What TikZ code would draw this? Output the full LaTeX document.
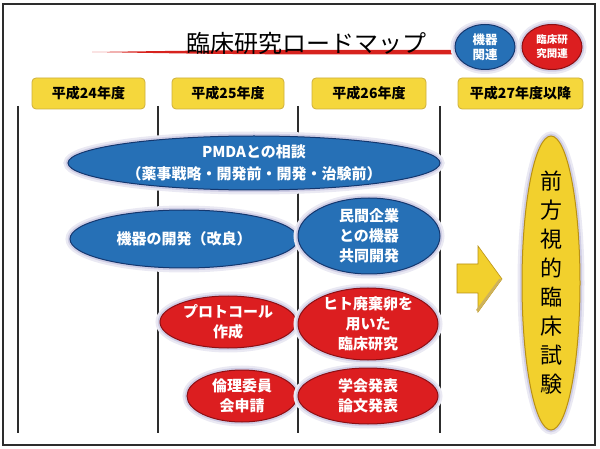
\documentclass[tikz,border=0pt]{standalone}
\usepackage{fontspec}
\setmainfont{Noto Sans CJK JP}
\usetikzlibrary{shapes.geometric}
\definecolor{bfill}{RGB}{38,112,182}
\definecolor{bedge}{RGB}{20,55,110}
\definecolor{rfill}{RGB}{220,30,32}
\definecolor{redge}{RGB}{140,15,20}
\definecolor{yfill}{RGB}{242,208,45}
\definecolor{yedge}{RGB}{185,145,20}
\definecolor{halo}{RGB}{195,192,222}
\definecolor{boxfill}{RGB}{245,215,60}
\definecolor{boxedge}{RGB}{205,175,60}
\definecolor{vline}{RGB}{45,45,45}
\definecolor{titlered}{RGB}{215,35,30}
\begin{document}
\begin{tikzpicture}[x=1pt,y=-1pt,
  blob/.style={ellipse, inner sep=0pt, fill=#1fill, draw=#1edge, line width=1pt,
    preaction={draw=halo!35, line width=9pt},
    preaction={draw=halo!80, line width=4.5pt}},
  yearbox/.style={rectangle, rounded corners=4pt, fill=boxfill, draw=boxedge, line width=0.8pt,
    minimum height=31pt, inner sep=0pt, font=\bfseries\fontsize{14}{16}\selectfont},
  wtxt/.style={text=white, align=center, font=\bfseries\fontsize{15}{20}\selectfont},
  divider/.style={draw=vline, line width=2.5pt}]
\useasboundingbox (0,0) rectangle (600,449);
% frame
\draw[draw=vline, line width=1.5pt] (3,4) rectangle (595,445);
% title
\fill[titlered] (92,52) .. controls (200,50.5) .. (300,49.8) -- (456,49.8) -- (456,54.5) -- (300,54.5) .. controls (200,53.8) .. (92,52) -- cycle;
\node[font=\fontsize{24}{26}\selectfont] (title) at (306,43) {臨床研究ロードマップ};
% legend
\node[blob=b, minimum width=60pt, minimum height=45pt] (legb) at (485,47) {};
\node[text=white, align=center, font=\bfseries\fontsize{12.5}{15}\selectfont] (legbt) at (legb) {機器\\関連};
\node[blob=r, minimum width=60pt, minimum height=45pt] (legr) at (552,47) {};
\node[text=white, align=center, font=\bfseries\fontsize{10.5}{14}\selectfont] (legrt) at (legr) {臨床研\\究関連};
% year boxes
\node[yearbox, minimum width=113pt] (y24) at (88.5,93.5) {平成24年度};
\node[yearbox, minimum width=112pt] (y25) at (228,93.5) {平成25年度};
\node[yearbox, minimum width=114pt] (y26) at (369,93.5) {平成26年度};
\node[yearbox, minimum width=125pt] (y27) at (520.5,93.5) {平成27年度以降};
% dividers
\coordinate (d1t) at (18,106); \coordinate (d1b) at (18,433);
\coordinate (d2t) at (158,106); \coordinate (d2b) at (158,433);
\coordinate (d3t) at (298,106); \coordinate (d3b) at (298,433);
\coordinate (d4t) at (440,106); \coordinate (d4b) at (440,433);
\draw[divider] (d1t) -- (d1b);
\draw[divider] (d2t) -- (d2b);
\draw[divider] (d3t) -- (d3b);
\draw[divider] (d4t) -- (d4b);
% blue ellipses
\node[blob=b, minimum width=372pt, minimum height=54pt] (pmda) at (254,163) {};
\node[wtxt, font=\bfseries\fontsize{15}{22}\selectfont] (pmdat) at (pmda) {PMDAとの相談\\（薬事戦略・開発前・開発・治験前）};
\node[blob=b, minimum width=228pt, minimum height=58pt] (dev) at (184,239) {};
\node[wtxt] (devt) at (dev) {機器の開発（改良）};
\node[blob=b, minimum width=142pt, minimum height=76pt] (joint) at (369,236) {};
\node[wtxt] (jointt) at (joint) {民間企業\\との機器\\共同開発};
% red ellipses
\node[blob=r, minimum width=136pt, minimum height=52pt] (proto) at (228,322) {};
\node[wtxt] (protot) at (proto) {プロトコール\\作成};
\node[blob=r, minimum width=140pt, minimum height=72pt] (hito) at (368,324) {};
\node[wtxt] (hitot) at (hito) {ヒト廃棄卵を\\用いた\\臨床研究};
\node[blob=r, minimum width=110pt, minimum height=52pt] (rinri) at (242,396) {};
\node[wtxt] (rinrit) at (rinri) {倫理委員\\会申請};
\node[blob=r, minimum width=140pt, minimum height=56pt] (gakkai) at (368,396) {};
\node[wtxt] (gakkait) at (gakkai) {学会発表\\論文発表};
% arrow
\fill[yfill, draw=yedge, line width=0.6pt] (457,264) -- (478,264) -- (478,246) -- (502,279) -- (478,312) -- (478,293) -- (457,293) -- cycle;
\fill[yedge!70] (478,312) -- (502,279) -- (499,279) -- (476,310) -- cycle;
% yellow vertical ellipse
\node[blob=y, minimum width=58pt, minimum height=294pt] (trial) at (551,283) {};
\node[align=center, font=\fontsize{22}{29}\selectfont] (trialt) at (trial) {前\\方\\視\\的\\臨\\床\\試\\験};
\end{tikzpicture}
\end{document}
